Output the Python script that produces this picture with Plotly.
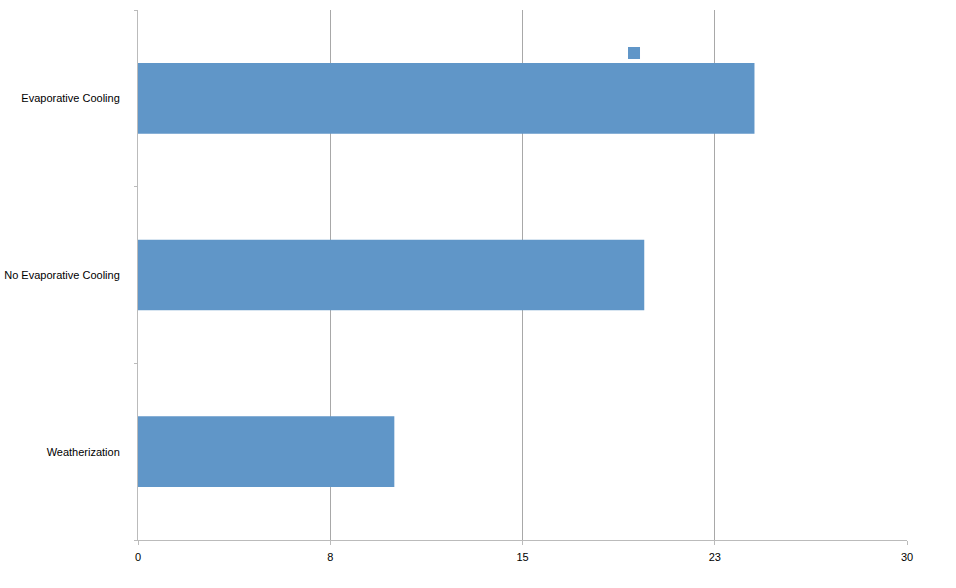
import plotly.graph_objects as go

# data
categories = ["Evaporative Cooling", "No Evaporative Cooling", "Weatherization"]
values = [24.05, 19.75, 10.0]
tick_vals = [0, 7.5, 15, 22.5, 30]
tick_text = ["0", "8", "15", "23", "30"]

bar = go.Bar(
    name=" ",
    orientation="h",
    x=values,
    y=categories,
    width=0.4,
    marker=dict(color="#6096c8", line=dict(width=0)),
    showlegend=True,
)

fig = go.Figure(data=[bar])

fig.update_layout(
    width=956,
    height=588,
    margin=dict(l=138, r=49, t=10, b=48),
    paper_bgcolor="white",
    plot_bgcolor="white",
    font=dict(family="Liberation Sans, Arial, sans-serif", size=11, color="black"),
    showlegend=True,
    legend=dict(
        x=0.619, y=0.919, xanchor="left", yanchor="middle",
        bgcolor="rgba(0,0,0,0)", font=dict(size=11),
        itemwidth=30,
    ),
    xaxis=dict(
        range=[0, 30],
        tickvals=tick_vals,
        ticktext=tick_text,
        showgrid=True,
        gridcolor="#a8a8a8",
        gridwidth=1,
        showline=True,
        linecolor="#bbbbbb",
        ticks="outside",
        ticklen=4,
        tickcolor="#bbbbbb",
        zeroline=False,
        ticklabelstandoff=3,
        automargin=False,
    ),
    yaxis=dict(
        categoryorder="array",
        categoryarray=categories[::-1],
        showgrid=False,
        showline=True,
        linecolor="#bbbbbb",
        ticks="outside",
        tickson="boundaries",
        ticklen=3,
        tickcolor="#bbbbbb",
        ticklabelstandoff=15,
        zeroline=False,
        automargin=False,
    ),
)

# drop the default 8px body margin of the page
fig.write_html(
    "out.html",
    config={"displayModeBar": False},
    post_script="document.body.style.margin='0px';",
)
